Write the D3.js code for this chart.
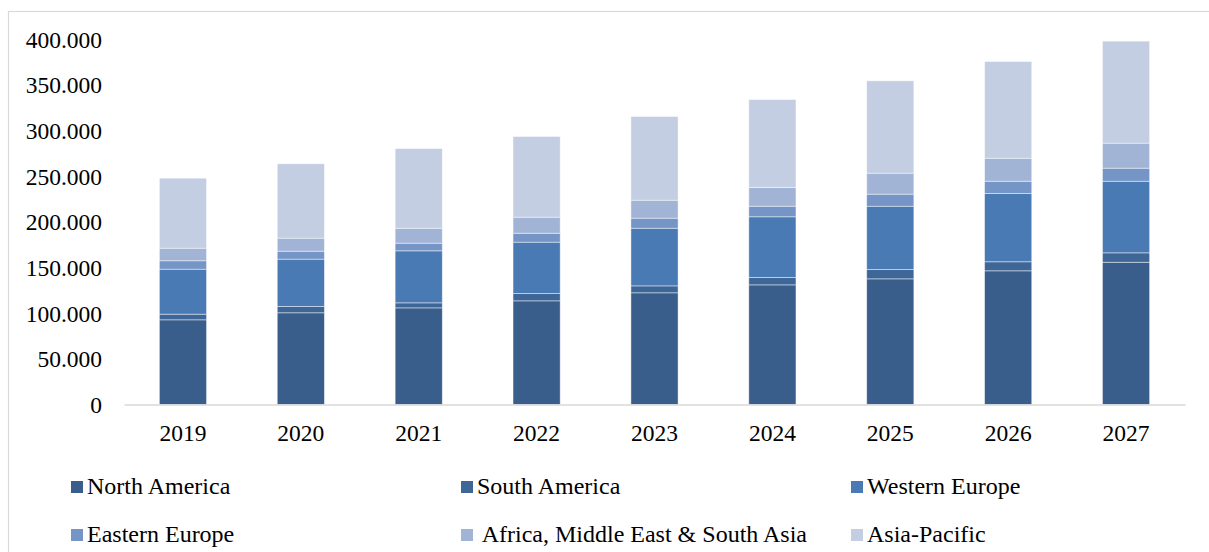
<!DOCTYPE html>
<html>
<head>
<meta charset="utf-8">
<script src="https://cdn.jsdelivr.net/npm/d3@7"></script>
<style>
  html, body { margin: 0; padding: 0; background: #fff; }
  svg { display: block; }
  svg text { font-family: "Liberation Serif", "Times New Roman", serif !important; fill: #000; }
</style>
</head>
<body>
<svg id="chart" width="1209" height="552"></svg>
<script>
// Market size by region, 2019–2027 (values in units, '.' as thousands separator)
const years = ["2019", "2020", "2021", "2022", "2023", "2024", "2025", "2026", "2027"];
const regions = ["North America", "South America", "Western Europe", "Eastern Europe", " Africa, Middle East & South Asia", "Asia-Pacific"];
const northAmerica   = [92800, 100500, 105900, 113600, 122400, 131100, 137700, 146500, 155900];
const southAmerica   = [6200, 6900, 5500, 8000, 7600, 8100, 10200, 9900, 10300];
const westernEurope  = [49300, 51900, 57000, 56300, 63200, 66500, 69400, 74800, 78500];
const easternEurope  = [9200, 8700, 8400, 9800, 11000, 11600, 13200, 13500, 14300];
const africaMESA     = [13800, 14300, 16400, 17600, 19700, 20500, 23000, 25200, 27400];
const asiaPacific    = [76700, 81500, 87300, 88400, 91700, 96400, 101200, 106000, 111800];
const yTicks = [0, 50000, 100000, 150000, 200000, 250000, 300000, 350000, 400000];
const colors = ["#3a5e8b", "#3e6798", "#4a7ab4", "#7495c5", "#a2b4d6", "#c3cee2"];

const seriesValues = [northAmerica, southAmerica, westernEurope, easternEurope, africaMESA, asiaPacific];
const rows = years.map((y, i) => {
  const r = { year: y };
  regions.forEach((name, k) => { r[name] = seriesValues[k][i]; });
  return r;
});

const svg = d3.select("#chart");

// outer frame
svg.append("rect")
  .attr("x", 8.5).attr("y", 11.5)
  .attr("width", 1300).attr("height", 600)
  .attr("fill", "none").attr("stroke", "#d9d9d9").attr("stroke-width", 1.2);

const x = d3.scaleBand().domain(years).range([124, 1185]).paddingInner(0.6).paddingOuter(0.3);
const y = d3.scaleLinear().domain([0, 400000]).range([404.5, 39.5]);

const locale = d3.formatLocale({ decimal: ",", thousands: ".", grouping: [3], currency: ["", ""] });
const fmt = locale.format(",");

const stack = d3.stack().keys(regions);
const layers = stack(rows);

svg.append("g").selectAll("g")
  .data(layers).join("g")
  .attr("fill", (d, i) => colors[i])
  .selectAll("rect")
  .data(d => d).join("rect")
  .attr("x", d => x(d.data.year))
  .attr("width", x.bandwidth())
  .attr("y", d => y(d[1]))
  .attr("height", d => y(d[0]) - y(d[1]))
  .attr("stroke", "#ffffff").attr("stroke-opacity", 0.55).attr("stroke-width", 0.8);

// x axis
const xAxis = svg.append("g")
  .attr("transform", `translate(0,${y(0)})`)
  .call(d3.axisBottom(x).tickSize(0).tickPadding(0));
xAxis.select(".domain").attr("stroke", "#d9d9d9").attr("stroke-width", 1.6);
xAxis.selectAll("text")
  .attr("y", 36.5).attr("dy", 0)
  .style("font-size", "23.5px");

// y axis (labels only)
const yAxis = svg.append("g")
  .attr("transform", "translate(102,0)")
  .call(d3.axisLeft(y).tickValues(yTicks).tickFormat(d => d === 0 ? "0" : fmt(d)).tickSize(0).tickPadding(0));
yAxis.select(".domain").remove();
yAxis.selectAll("text")
  .attr("x", 0).attr("dy", "0.33em")
  .style("font-size", "23.5px");

// legend
const legend = svg.append("g");
const item = legend.selectAll("g")
  .data(regions).join("g")
  .attr("transform", (d, i) => `translate(${71 + (i % 3) * 390},${494 + Math.floor(i / 3) * 48})`);
item.append("rect")
  .attr("x", 0).attr("y", -13).attr("width", 12).attr("height", 12)
  .attr("fill", (d, i) => colors[i]);
item.append("text")
  .attr("x", 16).attr("y", 0)
  .style("font-size", "24px")
  .style("white-space", "pre")
  .text(d => d);
</script>
</body>
</html>
